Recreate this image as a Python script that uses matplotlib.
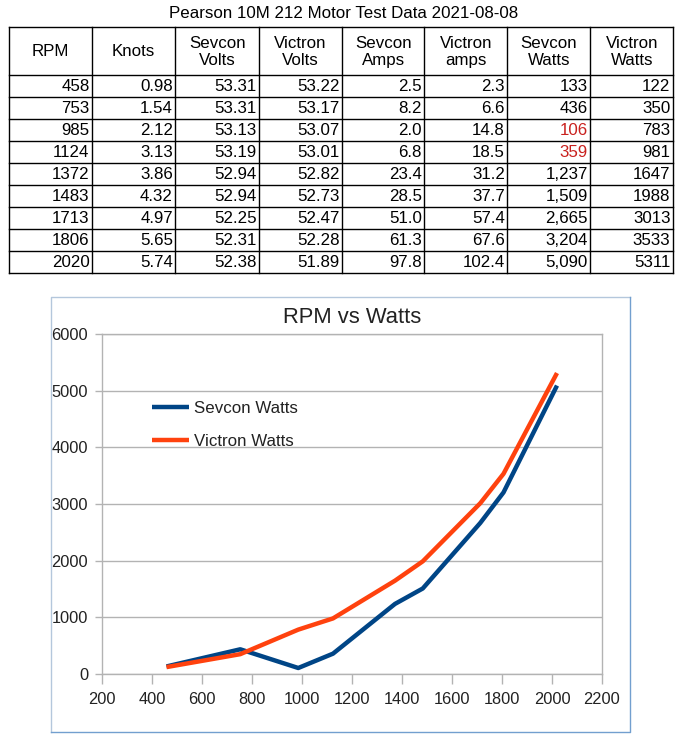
import matplotlib
matplotlib.use("Agg")
import matplotlib.pyplot as plt

plt.rcParams['font.family'] = ['Liberation Sans', 'DejaVu Sans']

# Datos de la tabla
rpm = [458, 753, 985, 1124, 1372, 1483, 1713, 1806, 2020]
knots = [0.98, 1.54, 2.12, 3.13, 3.86, 4.32, 4.97, 5.65, 5.74]
sevcon_volts = [53.31, 53.31, 53.13, 53.19, 52.94, 52.94, 52.25, 52.31, 52.38]
victron_volts = [53.22, 53.17, 53.07, 53.01, 52.82, 52.73, 52.47, 52.28, 51.89]
sevcon_amps = [2.5, 8.2, 2.0, 6.8, 23.4, 28.5, 51.0, 61.3, 97.8]
victron_amps = [2.3, 6.6, 14.8, 18.5, 31.2, 37.7, 57.4, 67.6, 102.4]
sevcon_watts = [133, 436, 106, 359, 1237, 1509, 2665, 3204, 5090]
victron_watts = [122, 350, 783, 981, 1647, 1988, 3013, 3533, 5311]
headers = ["RPM", "Knots", "Sevcon\nVolts", "Victron\nVolts", "Sevcon\nAmps",
           "Victron\namps", "Sevcon\nWatts", "Victron\nWatts"]
red_rows = [2, 3]  # filas en rojo en Sevcon Watts

BLUE = '#004586'
ORANGE = '#ff420e'
RED = '#c9211e'
GRID = '#b3b3b3'
FS = 12.2

fig = plt.figure(figsize=(6.85, 7.45), dpi=100)

# Capa en pixeles para la tabla y el marco
bg = fig.add_axes([0, 0, 1, 1])
bg.set_xlim(0, 685)
bg.set_ylim(745, 0)
bg.axis('off')

bg.text(344, 14, "Pearson 10M 212 Motor Test Data 2021-08-08", ha='center', va='center',
        fontsize=FS, color='black')

col_x = [9, 92, 175.5, 259, 342, 424.5, 507.5, 590.5, 673]
top, head_bot, row_h = 26.5, 75, 21.97
bottom = head_bot + row_h * len(rpm)
for x in col_x:
    bg.plot([x, x], [top, bottom], color='black', lw=1.0)
bg.plot([col_x[0], col_x[-1]], [top, top], color='black', lw=1.0)
for i in range(len(rpm) + 1):
    y = head_bot + i * row_h
    bg.plot([col_x[0], col_x[-1]], [y, y], color='black', lw=1.0)

for j, h in enumerate(headers):
    bg.text((col_x[j] + col_x[j + 1]) / 2, (top + head_bot) / 2 + 1, h, ha='center', va='center',
            fontsize=FS, linespacing=1.2)

columns = [
    [str(v) for v in rpm],
    ["%.2f" % v for v in knots],
    ["%.2f" % v for v in sevcon_volts],
    ["%.2f" % v for v in victron_volts],
    ["%.1f" % v for v in sevcon_amps],
    ["%.1f" % v for v in victron_amps],
    ["{:,}".format(v) for v in sevcon_watts],
    [str(v) for v in victron_watts],
]
for j, col in enumerate(columns):
    for i, s in enumerate(col):
        c = RED if (j == 6 and i in red_rows) else 'black'
        bg.text(col_x[j + 1] - 2.5, head_bot + (i + 0.5) * row_h + 1, s, ha='right', va='center',
                fontsize=FS, color=c)

# Marco del grafico
bg.plot([51.5, 51.5, 630], [732, 297, 297], color='#b4c7dc', lw=1.0)
bg.plot([51.5, 630, 630], [732, 732, 297], color='#729fcf', lw=1.0)

# Grafico
ax = fig.add_axes([102 / 685, 1 - 674 / 745, 500 / 685, 340 / 745])
ax.plot(rpm, sevcon_watts, color=BLUE, lw=3.2, label='Sevcon Watts', solid_capstyle='butt')
ax.plot(rpm, victron_watts, color=ORANGE, lw=3.2, label='Victron Watts', solid_capstyle='butt')
ax.set_xlim(200, 2200)
ax.set_ylim(0, 6000)
ax.set_xticks(range(200, 2201, 200))
ax.set_yticks(range(0, 6001, 1000))
ax.grid(axis='y', color=GRID, lw=1.0)
ax.set_axisbelow(True)
for s in ax.spines.values():
    s.set_color(GRID)
    s.set_linewidth(1.0)
ax.tick_params(axis='y', length=5, color=GRID, width=1.0, pad=5, labelsize=11.8, labelcolor='#222222')
ax.tick_params(axis='x', length=7, color=GRID, width=1.0, pad=6, labelsize=11.8, labelcolor='#222222')
ax.set_title("RPM vs Watts", fontsize=15.8, color='#222222', pad=8)

ax.legend(loc='upper left', bbox_to_anchor=(151.5 / 685, 1 - 401 / 745),
          bbox_transform=fig.transFigure, frameon=False, fontsize=12.2,
          handlelength=2.2, handletextpad=0.3, labelspacing=1.05,
          borderpad=0, borderaxespad=0, labelcolor='#222222')

fig.savefig("out.png", dpi=100)
